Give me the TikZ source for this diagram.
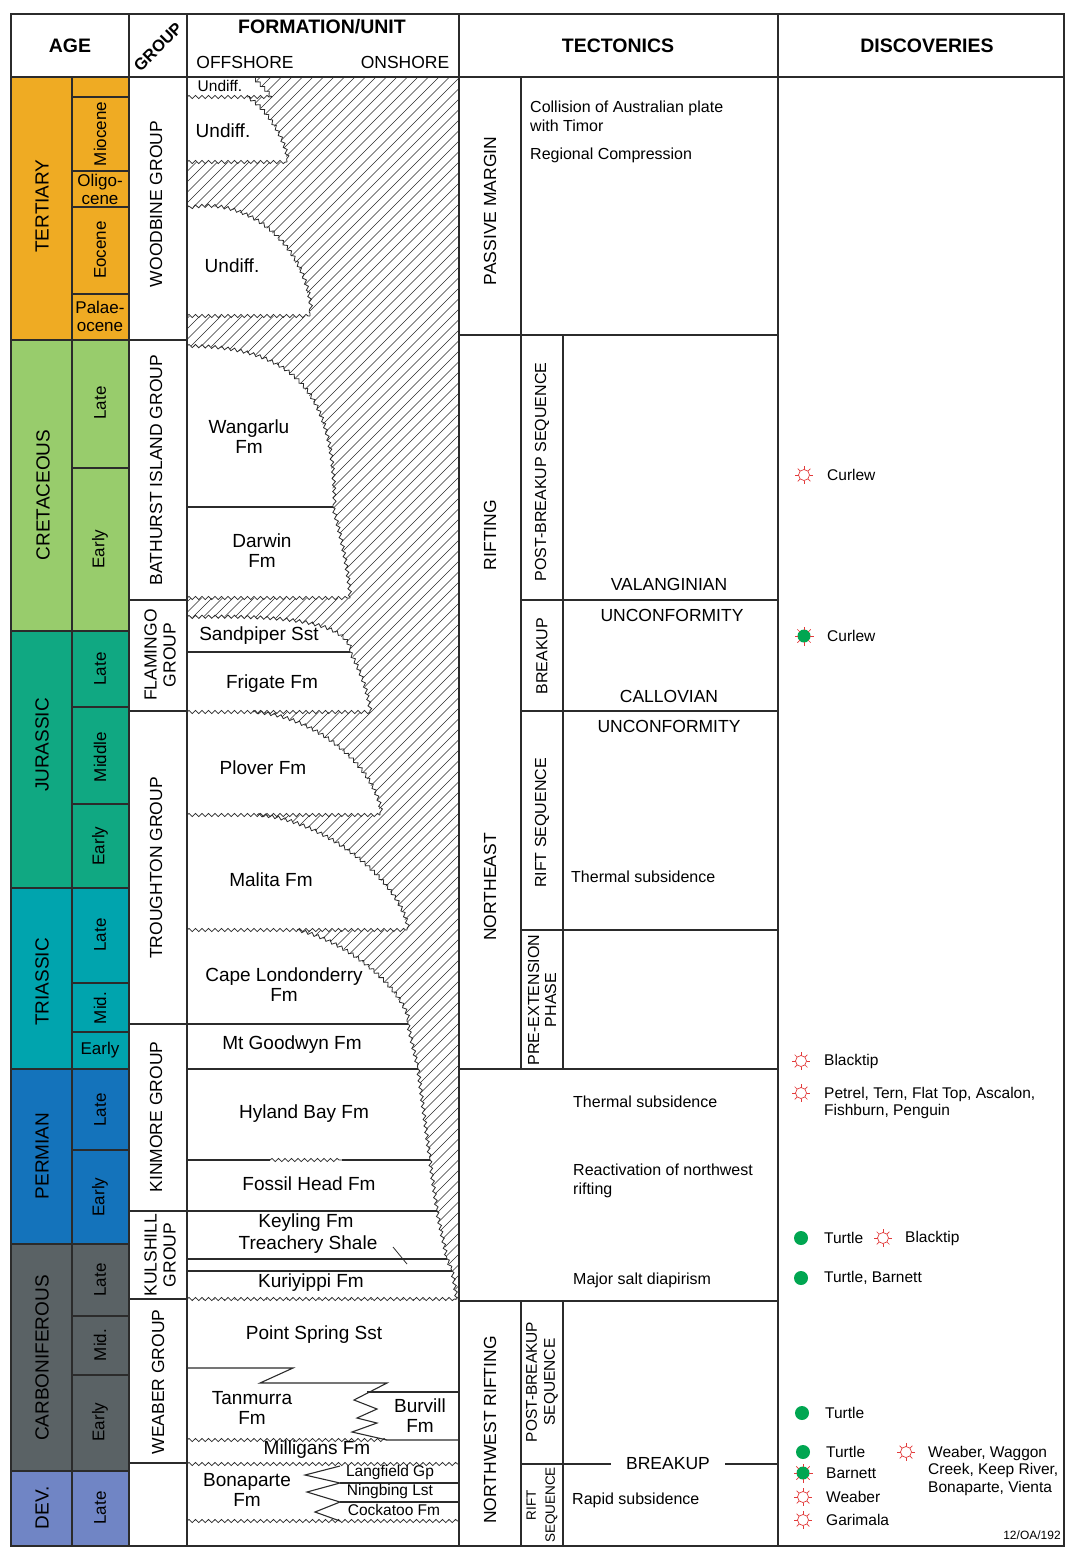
\documentclass[tikz,border=0pt]{standalone}
\usepackage{fontspec}
\setmainfont{Liberation Sans}
\usetikzlibrary{decorations.pathmorphing}

\definecolor{tertiary}{HTML}{EFAB23}
\definecolor{cretaceous}{HTML}{98CC6C}
\definecolor{jurassic}{HTML}{10A882}
\definecolor{triassic}{HTML}{00A4AE}
\definecolor{permian}{HTML}{1473BB}
\definecolor{carbon}{HTML}{5A6265}
\definecolor{devonian}{HTML}{7085C5}
\definecolor{showred}{HTML}{E23B3B}
\definecolor{oilgreen}{HTML}{00A651}
\definecolor{rule}{HTML}{2B2B2B}

\tikzset{
  cell/.style={draw=rule, line width=1.1pt},
  hd/.style={font=\bfseries\fontsize{19.5}{22}\selectfont, inner sep=0pt},
  subhd/.style={font=\fontsize{17.5}{20}\selectfont, inner sep=0pt},
  period/.style={font=\fontsize{19}{21}\selectfont, rotate=90, inner sep=0pt},
  epoch/.style={font=\fontsize{17}{18}\selectfont, align=center, inner sep=0pt},
  grp/.style={font=\fontsize{17.5}{19}\selectfont, rotate=90, align=center, inner sep=0pt},
  fmn/.style={font=\fontsize{19}{20}\selectfont, align=center, inner sep=0pt},
  fmnsm/.style={font=\fontsize{15.5}{18}\selectfont, inner sep=0pt},
  phase/.style={font=\fontsize{17.5}{20}\selectfont, rotate=90, inner sep=0pt},
  seq/.style={font=\fontsize{16}{17}\selectfont, rotate=90, align=center, inner sep=0pt},
  event/.style={font=\fontsize{16}{19}\selectfont, align=left, anchor=west, inner sep=0pt},
  horizon/.style={font=\fontsize{17.5}{20}\selectfont, inner sep=0pt},
  disc/.style={font=\fontsize{15.5}{17.5}\selectfont, align=left, anchor=west, inner sep=0pt},
  wavy/.style={draw=rule, line width=0.8pt, decorate,
    decoration={snake, segment length=6.5pt, amplitude=1.6pt}},
  contact/.style={draw=rule, line width=1.1pt},
  hatch/.style={draw=rule, line width=0.6pt},
  show/.style={draw=showred, line width=0.7pt},
}

% discovery symbols
\newcommand{\gasshow}[2]{%
  \node[circle, draw=showred, line width=0.7pt, fill=white, minimum size=11pt, inner sep=0pt] (#1) at (#2) {};
  \foreach \a in {0,45,...,315}
    \draw[show] ([shift={(\a:5.5)}]#1.center) -- ([shift={(\a:9)}]#1.center);
}
\newcommand{\oilshow}[2]{%
  \node[circle, fill=oilgreen, minimum size=13pt, inner sep=0pt] (#1) at (#2) {};
  \foreach \a in {0,45,...,315}
    \draw[show] ([shift={(\a:6)}]#1.center) -- ([shift={(\a:9.5)}]#1.center);
}
\newcommand{\oildot}[2]{%
  \node[circle, fill=oilgreen, minimum size=14pt, inner sep=0pt] (#1) at (#2) {};
}

\begin{document}
\begin{tikzpicture}[x=1pt, y=-1pt]
\useasboundingbox (0,0) rectangle (1078,1552);

% hatching (onshore, no section)
\begin{scope}
\clip (187,77) rectangle (459,1299);
\foreach \i in {0,...,145}
  \draw[hatch] (187+\i*10.5,77) -- ++(-1240,1240);
\end{scope}

% formations over the hatching
\foreach \yt/\xs/\ax/\ay/\bx/\by/\xr/\yb in {
  77/253/260/84/266/90/272/97,
  97/247/262/105/284/135/287/162,
  208/187/250/195/308/250/310/316,
  346/187/300/346/333/400/333/507,
  507/333/342/540/348/570/350/598,
  617/187/290/615/345/622/350/652,
  652/350/360/670/367/690/370/712,
  712/253/315/715/377/770/380/815,
  815/257/320/818/400/880/407/930,
  930/297/345/940/405/990/408/1024,
  1024/408/411/1039/415/1054/418/1069,
  1069/418/422/1099/426/1130/430/1160,
  1160/430/432/1177/435/1194/437/1211,
  1211/437/440/1227/444/1243/447/1259,
  1259/447/449/1263/450/1267/452/1271,
  1271/452/454/1280/455/1290/457/1299}
{
  \fill[white] (187,\yb) -- (187,\yt) -- (\xs,\yt) .. controls (\ax,\ay) and (\bx,\by) .. (\xr,\yb) -- cycle;
  \draw[wavy] (\xs,\yt) .. controls (\ax,\ay) and (\bx,\by) .. (\xr,\yb);
}

% unconformities
\foreach \y/\xa/\xb in {97/187/272, 162/187/287, 316/187/310, 598/187/350,
  712/187/370, 815/187/380, 930/187/407, 1160/270/342, 1299/187/457,
  1440/187/387, 1464/187/459, 1521/187/459}
  \draw[wavy] (\xa,\y) -- (\xb,\y);

% conformable contacts
\foreach \y/\xb in {507/333, 652/350, 1024/408, 1069/418, 1211/437, 1259/447, 1271/452}
  \draw[contact] (187,\y) -- (\xb,\y);
\draw[contact] (187,1160) -- (270,1160) (342,1160) -- (430,1160);
\draw[contact, line width=0.8pt] (393,1247) -- (407,1264);

% interfingering
\draw[contact] (187,1368) -- (293,1368) -- (260,1383) -- (387,1383) -- (354,1400) -- (377,1409)
  -- (357,1418) -- (377,1423) -- (352,1432) -- (387,1440) -- (459,1440);
\draw[contact] (367,1392) -- (459,1392);
\draw[contact] (340,1466) -- (305,1475) -- (340,1483) -- (307,1492) -- (340,1502) -- (315,1512) -- (340,1521);
\draw[contact] (340,1483) -- (459,1483) (340,1502) -- (459,1502);

% age column
\foreach \yt/\yb/\col in {77/340/tertiary, 340/631/cretaceous, 631/888/jurassic,
  888/1069/triassic, 1069/1244/permian, 1244/1471/carbon, 1471/1546/devonian}
  \filldraw[fill=\col, cell] (11,\yt) rectangle (72,\yb);
\foreach \yt/\yb/\col in {77/97/tertiary, 97/171/tertiary, 171/207/tertiary, 207/294/tertiary,
  294/340/tertiary, 340/468/cretaceous, 468/631/cretaceous, 631/707/jurassic, 707/804/jurassic,
  804/888/jurassic, 888/983/triassic, 983/1032/triassic, 1032/1069/triassic, 1069/1150/permian,
  1150/1244/permian, 1244/1316/carbon, 1316/1375/carbon, 1375/1471/carbon, 1471/1546/devonian}
  \filldraw[fill=\col, cell] (72,\yt) rectangle (129,\yb);

% frame and columns
\draw[cell, line width=1.5pt] (11,14) rectangle (1064,1546);
\draw[cell] (11,77) -- (1064,77);
\foreach \x in {129,187,459,778}
  \draw[cell] (\x,14) -- (\x,1546);
\foreach \y in {340,600,711,1024,1211,1299,1463}
  \draw[cell] (129,\y) -- (187,\y);

% tectonics cells
\draw[cell] (521,77) -- (521,335);
\draw[cell] (459,335) -- (778,335);
\draw[cell] (521,335) -- (521,1069) (563,335) -- (563,1069);
\foreach \y in {600,711,930}
  \draw[cell] (521,\y) -- (778,\y);
\draw[cell] (459,1069) -- (778,1069) (459,1301) -- (778,1301);
\draw[cell] (521,1301) -- (521,1546) (563,1301) -- (563,1546);

% headings
\node[hd] (ageHd) at (70,46) {AGE};
\node[hd, font=\bfseries\fontsize{16.5}{18}\selectfont, rotate=45] (grpHd) at (158,47) {GROUP};
\node[hd] (fmnHd) at (322,27) {FORMATION/UNIT};
\node[subhd] (offHd) at (245,62) {OFFSHORE};
\node[subhd] (onHd) at (405,62) {ONSHORE};
\node[hd] (tecHd) at (618,46) {TECTONICS};
\node[hd] (discHd) at (927,46) {DISCOVERIES};

% periods
\node[period] (tert) at (42,206) {TERTIARY};
\node[period] (cret) at (43,495) {CRETACEOUS};
\node[period] (jur) at (42,745) {JURASSIC};
\node[period] (tri) at (42,982) {TRIASSIC};
\node[period] (perm) at (42,1156) {PERMIAN};
\node[period] (carb) at (42,1358) {CARBONIFEROUS};
\node[period] (dev) at (42,1508) {DEV.};

% epochs
\node[epoch, rotate=90] (mio) at (100,134) {Miocene};
\node[epoch] (oli) at (100,189) {Oligo-\\cene};
\node[epoch, rotate=90] (eoc) at (100,250) {Eocene};
\node[epoch] (pal) at (100,316) {Palae-\\ocene};
\node[epoch, rotate=90] (kL) at (100,403) {Late};
\node[epoch, rotate=90] (kE) at (100,549) {Early};
\node[epoch, rotate=90] (jL) at (100,669) {Late};
\node[epoch, rotate=90] (jM) at (100,757) {Middle};
\node[epoch, rotate=90] (jE) at (100,846) {Early};
\node[epoch, rotate=90] (trL) at (100,935) {Late};
\node[epoch, rotate=90] (trM) at (100,1008) {Mid.};
\node[epoch] (trE) at (100,1050) {Early};
\node[epoch, rotate=90] (pL) at (100,1110) {Late};
\node[epoch, rotate=90] (pE) at (100,1197) {Early};
\node[epoch, rotate=90] (cL) at (100,1280) {Late};
\node[epoch, rotate=90] (cM) at (100,1345) {Mid.};
\node[epoch, rotate=90] (cE) at (100,1422) {Early};
\node[epoch, rotate=90] (dL) at (100,1508) {Late};

% groups
\node[grp] (woodbine) at (156,204) {WOODBINE GROUP};
\node[grp] (bathurst) at (156,470) {BATHURST ISLAND GROUP};
\node[grp] (flamingo) at (160,655) {FLAMINGO\\GROUP};
\node[grp] (troughton) at (156,868) {TROUGHTON GROUP};
\node[grp] (kinmore) at (156,1117) {KINMORE GROUP};
\node[grp] (kulshill) at (160,1255) {KULSHILL\\GROUP};
\node[grp] (weaber) at (158,1382) {WEABER GROUP};

% formations
\node[fmnsm] (und1) at (220,86) {Undiff.};
\node[fmn] (und2) at (223,131) {Undiff.};
\node[fmn] (und3) at (232,266) {Undiff.};
\node[fmn] (wangarlu) at (249,437) {Wangarlu\\Fm};
\node[fmn] (darwin) at (262,551) {Darwin\\Fm};
\node[fmn] (sandpiper) at (259,636) {Sandpiper Sst};
\node[fmn] (frigate) at (272,684) {Frigate Fm};
\node[fmn] (plover) at (263,768) {Plover Fm};
\node[fmn] (malita) at (271,880) {Malita Fm};
\node[fmn] (capelon) at (284,985) {Cape Londonderry\\Fm};
\node[fmn] (goodwyn) at (292,1045) {Mt Goodwyn Fm};
\node[fmn] (hyland) at (304,1114) {Hyland Bay Fm};
\node[fmn] (fossil) at (309,1184) {Fossil Head Fm};
\node[fmn] (keyling) at (306,1223) {Keyling Fm};
\node[fmn] (treachery) at (308,1245) {Treachery Shale};
\node[fmn] (kuriyippi) at (311,1283) {Kuriyippi Fm};
\node[fmn] (pointspr) at (314,1335) {Point Spring Sst};
\node[fmn] (tanmurra) at (252,1408) {Tanmurra\\Fm};
\node[fmn] (burvill) at (420,1416) {Burvill\\Fm};
\node[fmn] (milligans) at (317,1450) {Milligans Fm};
\node[fmn] (bonaparte) at (247,1490) {Bonaparte\\Fm};
\node[fmnsm] (langfield) at (390,1472) {Langfield Gp};
\node[fmnsm] (ningbing) at (390,1491) {Ningbing Lst};
\node[fmnsm] (cockatoo) at (394,1510) {Cockatoo Fm};

% tectonic phases
\node[phase] (passive) at (490,211) {PASSIVE MARGIN};
\node[phase] (rifting) at (490,535) {RIFTING};
\node[phase] (northeast) at (490,887) {NORTHEAST};
\node[phase] (nwrift) at (490,1430) {NORTHWEST RIFTING};
\node[seq] (postbrk) at (542,472) {POST-BREAKUP SEQUENCE};
\node[seq] (brkup) at (542,656) {BREAKUP};
\node[seq] (riftseq) at (542,823) {RIFT SEQUENCE};
\node[seq] (preext) at (542,1000) {PRE-EXTENSION\\PHASE};
\node[seq, font=\fontsize{15.5}{18}\selectfont] (postbrk2) at (542,1382) {POST-BREAKUP\\SEQUENCE};
\node[seq, font=\fontsize{13.5}{19}\selectfont] (riftseq2) at (542,1505) {RIFT\\SEQUENCE};

% tectonic events
\node[event] (collision) at (530,116.5) {Collision of Australian plate\\with Timor};
\node[event] (regcomp) at (530,155) {Regional Compression};
\node[horizon] (valang) at (669,584) {VALANGINIAN};
\node[horizon] (unconf1) at (672,615) {UNCONFORMITY};
\node[horizon] (callov) at (669,696) {CALLOVIAN};
\node[horizon] (unconf2) at (669,726) {UNCONFORMITY};
\node[event] (thermal1) at (571,877) {Thermal subsidence};
\node[event] (thermal2) at (573,1102) {Thermal subsidence};
\node[event] (reactiv) at (573,1181) {Reactivation of northwest\\rifting};
\node[event] (salt) at (573,1280) {Major salt diapirism};
\node[horizon, inner xsep=15pt] (brk) at (668,1464) {BREAKUP};
\draw[cell, line width=1.8pt] (521,1464) -- (brk) -- (778,1464);
\node[event] (rapid) at (572,1500) {Rapid subsidence};

% discoveries
\gasshow{g1}{804,475}
\node[disc] (curlew1) at (827,475) {Curlew};
\oilshow{g2}{804,636}
\node[disc] (curlew2) at (827,636) {Curlew};
\gasshow{g3}{801,1061}
\node[disc] (blacktip1) at (824,1061) {Blacktip};
\gasshow{g4}{801,1093}
\node[disc, anchor=north west] (petrel) at (824,1087) {Petrel, Tern, Flat Top, Ascalon,\\Fishburn, Penguin};
\oildot{o1}{801,1238}
\node[disc] (turtle1) at (824,1238) {Turtle};
\gasshow{g5}{883,1238}
\node[disc] (blacktip2) at (905,1238) {Blacktip};
\oildot{o2}{801,1278}
\node[disc] (turtle2) at (824,1278) {Turtle, Barnett};
\oildot{o3}{802,1413}
\node[disc] (turtle3) at (825,1413) {Turtle};
\oildot{o4}{803,1452}
\node[disc] (turtle4) at (826,1452) {Turtle};
\oilshow{g6}{803,1473}
\node[disc] (barnett) at (826,1473) {Barnett};
\gasshow{g7}{803,1497}
\node[disc] (weaber1) at (826,1497) {Weaber};
\gasshow{g8}{803,1520}
\node[disc] (garimala) at (826,1520) {Garimala};
\gasshow{g9}{906,1452}
\node[disc, anchor=north west] (waggon) at (928,1446) {Weaber, Waggon\\Creek, Keep River,\\Bonaparte, Vienta};
\node[font=\fontsize{12}{14}\selectfont, inner sep=0pt] (figno) at (1032,1535) {12/OA/192};
\end{tikzpicture}
\end{document}
